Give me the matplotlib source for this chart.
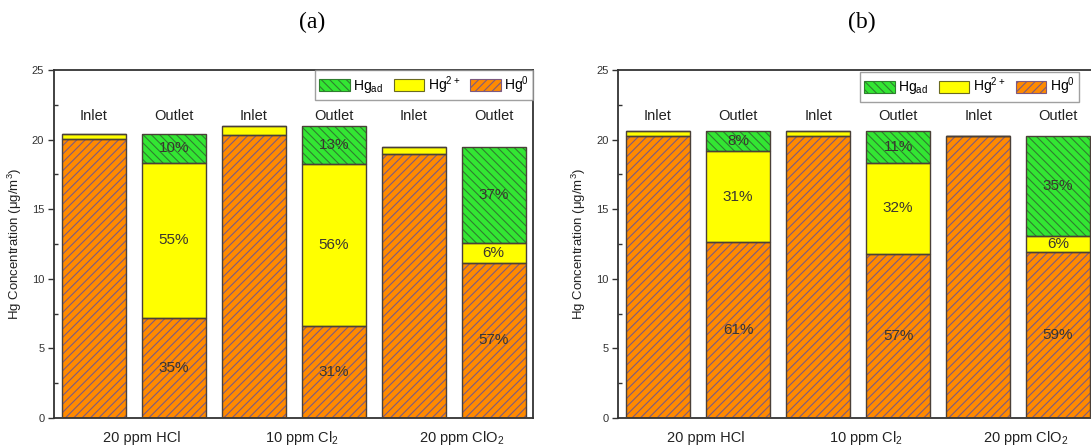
import matplotlib
matplotlib.use("Agg")
import matplotlib.pyplot as plt
from matplotlib.patches import Patch
from matplotlib.ticker import MultipleLocator
import numpy as np

plt.rcParams['font.family'] = ['Liberation Sans', 'DejaVu Sans']
plt.rcParams['mathtext.default'] = 'regular'
plt.rcParams['hatch.linewidth'] = 0.8

# bar labels and group labels
bar_labels = ['Inlet', 'Outlet', 'Inlet', 'Outlet', 'Inlet', 'Outlet']
groups = ['20 ppm HCl', '10 ppm Cl$_2$', '20 ppm ClO$_2$']

# (a) concentrations, ug/m3
a_hg0 = [20.05, 7.2, 20.3, 6.6, 18.95, 11.15]
a_hg2 = [0.35, 11.15, 0.7, 11.65, 0.55, 1.4]
a_hgad = [0.0, 2.05, 0.0, 2.7, 0.0, 6.95]
a_pct_hg0 = ['', '35%', '', '31%', '', '57%']
a_pct_hg2 = ['', '55%', '', '56%', '', '6%']
a_pct_hgad = ['', '10%', '', '13%', '', '37%']

# (b) concentrations, ug/m3
b_hg0 = [20.25, 12.65, 20.25, 11.75, 20.25, 11.9]
b_hg2 = [0.4, 6.5, 0.35, 6.6, 0.0, 1.15]
b_hgad = [0.0, 1.5, 0.0, 2.25, 0.0, 7.2]
b_pct_hg0 = ['', '61%', '', '57%', '', '59%']
b_pct_hg2 = ['', '31%', '', '32%', '', '6%']
b_pct_hgad = ['', '8%', '', '11%', '', '35%']

# colours: (face, hatch colour, hatch)
styles = {
    'hg0': ('#ff8a00', '#7d5a80', '////'),
    'hg2': ('#ffff00', '#ffff00', ''),
    'hgad': ('#33e633', '#2f7f2f', '\\\\\\\\'),
}
outline = '#4a4038'
txt_col = '#3a3530'


def draw_panel(ax, hg0, hg2, hgad, p0, p2, pad, leg_anchor):
    x = np.arange(len(hg0))
    hg0 = np.array(hg0)
    hg2 = np.array(hg2)
    hgad = np.array(hgad)
    layers = [('hg0', hg0, np.zeros_like(hg0), p0),
              ('hg2', hg2, hg0, p2),
              ('hgad', hgad, hg0 + hg2, pad)]
    for key, vals, bottom, pct in layers:
        face, hcol, hatch = styles[key]
        ax.bar(x, vals, 0.8, bottom=bottom, color=face, edgecolor=hcol,
               hatch=hatch, linewidth=0, zorder=2)
        ax.bar(x, vals, 0.8, bottom=bottom, fill=False, edgecolor=outline,
               linewidth=1.0, zorder=3)
        for xi, v, b, s in zip(x, vals, bottom, pct):
            if s:
                ax.text(xi, b + v / 2, s, ha='center', va='center',
                        fontsize=11, color=txt_col, zorder=4)
    for xi, lab in zip(x, bar_labels):
        ax.text(xi, 21.7, lab, ha='center', va='center', fontsize=10.5,
                color='#222222')
    for i, g in enumerate(groups):
        ax.text(2 * i + 0.6, -0.058, g, ha='center', va='center',
                fontsize=10.5, color='#222222',
                transform=ax.get_xaxis_transform())

    ax.set_xlim(-0.5, 5.5)
    ax.set_ylim(0, 25)
    ax.set_xticks([])
    ax.yaxis.set_major_locator(MultipleLocator(5))
    ax.yaxis.set_minor_locator(MultipleLocator(2.5))
    ax.tick_params(axis='y', which='major', direction='out', length=4,
                   width=1, labelsize=8, colors='#333333', pad=3)
    ax.tick_params(axis='y', which='minor', direction='in', length=3,
                   width=1, colors='#333333')
    for sp in ax.spines.values():
        sp.set_color('#333333')
        sp.set_linewidth(1.3)
    ax.set_ylabel('Hg Concentration (μg/m$^3$)', fontsize=9.5,
                  color='#222222', labelpad=6)

    handles = [Patch(facecolor=styles[k][0], edgecolor=styles[k][1],
                     hatch=styles[k][2], linewidth=0.8)
               for k in ['hgad', 'hg2', 'hg0']]
    handles[1].set_edgecolor('#6b6b20')
    leg = ax.legend(handles, ['Hg$_{ad}$', 'Hg$^{2+}$', 'Hg$^{0}$'],
                    loc='upper right', bbox_to_anchor=leg_anchor, ncol=3,
                    fontsize=10, frameon=True, fancybox=False,
                    borderaxespad=0.0, handlelength=2.2, handleheight=0.95,
                    columnspacing=0.75, handletextpad=0.25, borderpad=0.3)
    leg.get_frame().set_edgecolor('#888888')
    leg.get_frame().set_linewidth(1.0)


fig = plt.figure(figsize=(10.91, 4.47), dpi=100)
ax1 = fig.add_axes([0.0495, 0.065, 0.4395, 0.7785])
ax2 = fig.add_axes([0.5665, 0.065, 0.44, 0.7785])

draw_panel(ax1, a_hg0, a_hg2, a_hgad, a_pct_hg0, a_pct_hg2, a_pct_hgad,
           (1.0, 1.0))
draw_panel(ax2, b_hg0, b_hg2, b_hgad, b_pct_hg0, b_pct_hg2, b_pct_hgad,
           (0.96, 0.995))

fig.text(0.286, 0.95, '(a)', ha='center', va='center', fontsize=17,
         family=['Liberation Serif', 'DejaVu Serif'])
fig.text(0.790, 0.95, '(b)', ha='center', va='center', fontsize=17,
         family=['Liberation Serif', 'DejaVu Serif'])

fig.savefig('out.png', dpi=100)
